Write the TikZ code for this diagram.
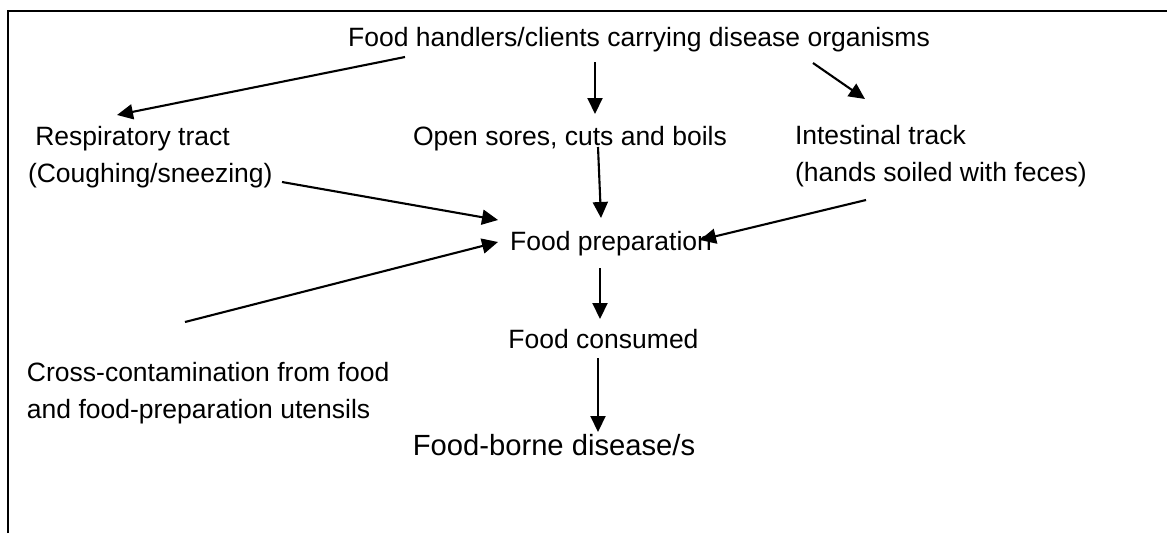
\documentclass[tikz,border=0pt]{standalone}
\usepackage{fontspec}
\setmainfont{Liberation Sans}
\usetikzlibrary{arrows.meta,calc}
\begin{document}
\begin{tikzpicture}[x=1pt,y=-1pt,
  lbl/.style={inner sep=0pt,outer sep=0pt,font=\fontsize{26.5}{36.5}\selectfont},
  lblml/.style={lbl,align=left},
  big/.style={inner sep=0pt,outer sep=0pt,font=\fontsize{29.2}{36}\selectfont},
  arr/.style={line width=2.1pt,-{Triangle[length=16pt,width=15pt]}},
  frame/.style={line width=2pt}]
\useasboundingbox (0,0) rectangle (1167,533);

% open frame: top and left edges
\draw[frame] (7.5,533) -- (7.5,11) -- (1167,11);

% text nodes (multi-line nodes are placed by the baseline of their last line)
\node[lbl,anchor=base] (top) at (639,46) {Food handlers/clients carrying disease organisms};
\node[lblml,anchor=base west] (resp) at (28,182) {~Respiratory tract\\(Coughing/sneezing)};
\node[lbl,anchor=base] (open) at (570,145) {Open sores, cuts and boils};
\node[lblml,anchor=base west] (intest) at (795,181) {Intestinal track\\(hands soiled with feces)};
\node[lbl,anchor=base] (prep) at (611,250) {Food preparation};
\node[lbl,anchor=base] (cons) at (603.5,348) {Food consumed};
\node[lblml,anchor=base west] (cross) at (27,418) {Cross-contamination from food\\and food-preparation utensils};
\node[big,anchor=base] (dis) at (554,455) {Food-borne disease/s};

% connectors
\draw[arr] ($(top.base)+(-234,11)$) -- ($(resp.base west)+(89,-67)$);
\draw[arr] ($(top.base)+(-44,16)$) -- ($(open.base)+(25,-31)$);
\draw[arr] ($(top.base)+(174,17)$) -- ($(intest.base west)+(70,-82)$);
\draw[arr] ($(open.base)+(28,2)$) -- ($(prep.base)+(-10,-32)$);
\draw[arr] ($(intest.base west)+(71,19)$) -- ($(prep.base)+(89,-10)$);
\draw[arr] ($(resp.base west)+(254,0)$) -- ($(prep.base)+(-113,-30)$);
\draw[arr] ($(cross.base west)+(158,-96)$) -- ($(prep.base)+(-113,-8)$);
\draw[arr] ($(prep.base)+(-11,18)$) -- ($(cons.base)+(-3.5,-29)$);
\draw[arr] ($(cons.base)+(-5.5,10)$) -- ($(dis.base)+(44,-23)$);
\end{tikzpicture}
\end{document}
